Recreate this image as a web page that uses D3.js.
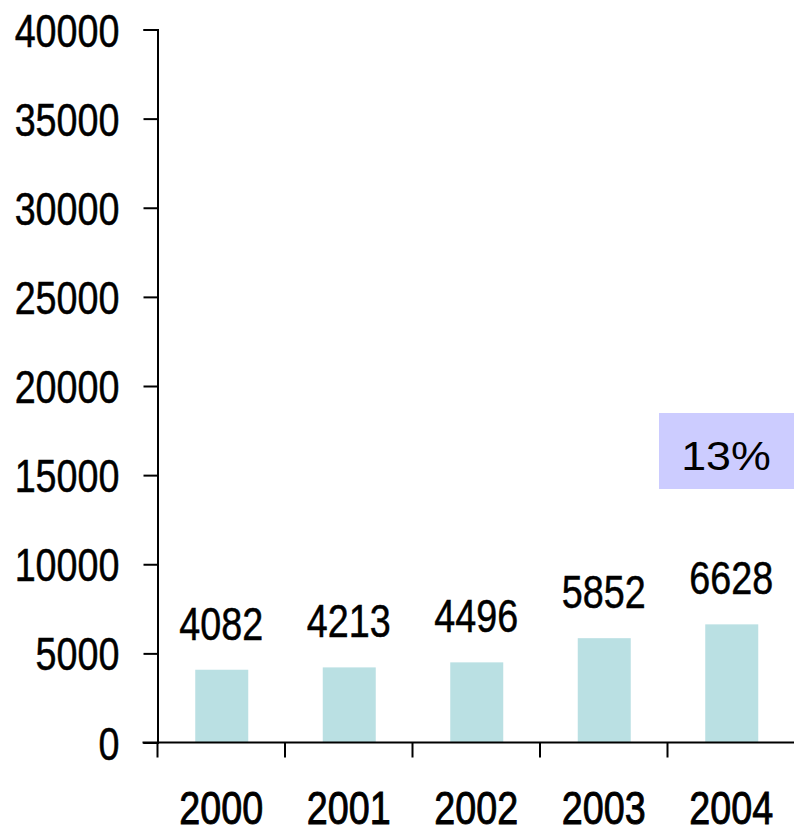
<!DOCTYPE html>
<html>
<head>
<meta charset="utf-8">
<script src="https://cdn.jsdelivr.net/npm/d3@7"></script>
<style>
  html, body { margin: 0; padding: 0; background: #fff; }
  svg { display: block; }
  .narrow { font-family: "Liberation Sans", Arial, sans-serif; stroke: #000; stroke-width: 0.5px; }
</style>
</head>
<body>
<svg id="chart" width="794" height="832"></svg>
<script>
const years = ["2000", "2001", "2002", "2003", "2004"];
const values = [4082, 4213, 4496, 5852, 6628];
const yTicks = [0, 5000, 10000, 15000, 20000, 25000, 30000, 35000, 40000];
const growthLabel = "13%";

(function () {
const svg = d3.select("#chart");
const mLeft = 157.5, mRight = 795, mTop = 29.5, mBottom = 742.5;
const squeeze = 0.82;

const x = d3.scaleBand().domain(years).range([mLeft, mRight]).paddingInner(0).paddingOuter(0);
const y = d3.scaleLinear().domain([0, 40000]).range([mBottom, mTop]);
const barW = 53;

// bars
svg.append("g").selectAll("rect").data(values).join("rect")
  .attr("x", (d, i) => x(years[i]) + x.bandwidth() / 2 - barW / 2 + 0.5)
  .attr("y", d => y(d))
  .attr("width", barW)
  .attr("height", d => y(0) - y(d))
  .attr("fill", "#bae0e3");

// value labels
svg.append("g").selectAll("text").data(values).join("text")
  .attr("class", "narrow")
  .attr("transform", (d, i) => `translate(${x(years[i]) + x.bandwidth() / 2},${y(d) - 30}) scale(${squeeze},1)`)
  .attr("text-anchor", "middle")
  .attr("font-size", 46)
  .attr("fill", "#000")
  .text(d => d);

// y axis
const yAxis = d3.axisLeft(y).tickValues(yTicks).tickFormat(d3.format("d"))
  .tickSize(14).tickPadding(24).tickSizeOuter(14);
const gy = svg.append("g").attr("transform", `translate(${mLeft},0)`).call(yAxis);
gy.selectAll("path, line").attr("stroke", "#000").attr("stroke-width", 2);
gy.selectAll("text")
  .attr("class", "narrow")
  .attr("x", 0)
  .attr("transform", `translate(-38,0) scale(${squeeze},1)`)
  .attr("font-size", 46)
  .attr("fill", "#000")
  .attr("dy", "0.36em");

// x axis
const boundaries = years.map(d => x(d)).concat([mRight]);
const gx = svg.append("g");
gx.append("line").attr("x1", mLeft - 15).attr("x2", mRight).attr("y1", mBottom).attr("y2", mBottom)
  .attr("stroke", "#000").attr("stroke-width", 2);
gx.selectAll("line.tick").data(boundaries).join("line").attr("class", "tick")
  .attr("x1", d => d).attr("x2", d => d).attr("y1", mBottom).attr("y2", mBottom + 15)
  .attr("stroke", "#000").attr("stroke-width", 2);
gx.selectAll("text").data(years).join("text")
  .attr("class", "narrow")
  .attr("transform", d => `translate(${x(d) + x.bandwidth() / 2},824) scale(${squeeze},1)`)
  .attr("text-anchor", "middle")
  .attr("font-size", 46)
  .attr("fill", "#000")
  .style("stroke-width", "0.9px")
  .text(d => d);

// growth box
svg.append("rect").attr("x", 659).attr("y", 413).attr("width", 135).attr("height", 76).attr("fill", "#ccccff");
svg.append("text")
  .attr("transform", "translate(726,470) scale(1.12,1)")
  .attr("text-anchor", "middle")
  .attr("font-family", "Liberation Sans, Arial, sans-serif")
  .attr("font-size", 40)
  .attr("fill", "#000")
  .text(growthLabel);
})();
</script>
</body>
</html>
